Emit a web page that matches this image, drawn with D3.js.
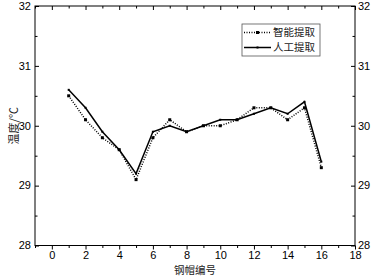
<!DOCTYPE html>
<html><head><meta charset="utf-8">
<script src="https://cdn.jsdelivr.net/npm/d3@7"></script>
<style>body{margin:0;background:#fff}svg{display:block}</style>
</head><body>
<script>
const ids = [1,2,3,4,5,6,7,8,9,10,11,12,13,14,15,16];
const smartVals = [30.5,30.1,29.8,29.6,29.1,29.8,30.1,29.9,30.0,30.0,30.1,30.3,30.3,30.1,30.3,29.3];
const manualVals = [30.6,30.3,29.9,29.6,29.2,29.9,30.0,29.9,30.0,30.1,30.1,30.2,30.3,30.2,30.4,29.4];
const seriesNames = ["智能提取","人工提取"];
const xTicks = [0,2,4,6,8,10,12,14,16,18];
const yTicks = [28,29,30,31,32];
const xLabel = "钢帽编号";
const yLabel = "温度/℃";

const W=373,H=278;
const svg=d3.select("body").append("svg").attr("width",W).attr("height",H);
const L=35,R=355,T=6,B=245.5;
const x=d3.scaleLinear().domain([-1,18]).range([L,R]);
const y=d3.scaleLinear().domain([28,32]).range([B,T]);
const tickFont="Liberation Sans, Arial, sans-serif";

function styleAxis(g){g.select(".domain").remove();g.selectAll("line").attr("stroke","#000").attr("stroke-width",1);
 g.selectAll("text").attr("font-family",tickFont).attr("font-size",11).attr("fill","#000");}
const xMinor=d3.range(-1,18.01,1).filter(v=>v%2!==0);
const yMinor=d3.range(28.5,32,1);

// bottom
svg.append("g").attr("transform",`translate(0,${B})`).call(d3.axisBottom(x).tickValues(xTicks).tickSize(4).tickPadding(2).tickFormat(d3.format("d"))).call(styleAxis);
svg.append("g").attr("transform",`translate(0,${B})`).call(d3.axisBottom(x).tickValues(xMinor).tickSize(2.5).tickFormat("")).call(styleAxis);
// top
svg.append("g").attr("transform",`translate(0,${T})`).call(d3.axisBottom(x).tickValues(xTicks).tickSize(4).tickFormat("")).call(styleAxis);
svg.append("g").attr("transform",`translate(0,${T})`).call(d3.axisBottom(x).tickValues(xMinor).tickSize(2.5).tickFormat("")).call(styleAxis);
// left
svg.append("g").attr("transform",`translate(${L},0)`).call(d3.axisRight(y).tickValues(yTicks).tickSize(4).tickFormat("")).call(styleAxis);
svg.append("g").attr("transform",`translate(${L},0)`).call(d3.axisRight(y).tickValues(yMinor).tickSize(2.5).tickFormat("")).call(styleAxis);
svg.append("g").selectAll("text").data(yTicks).join("text").attr("x",L-4).attr("y",d=>y(d)).attr("dy","0.35em")
 .attr("text-anchor","end").attr("font-family",tickFont).attr("font-size",11).text(d=>d);
// right
svg.append("g").attr("transform",`translate(${R},0)`).call(d3.axisLeft(y).tickValues(yTicks).tickSize(4).tickFormat("")).call(styleAxis);
svg.append("g").attr("transform",`translate(${R},0)`).call(d3.axisLeft(y).tickValues(yMinor).tickSize(2.5).tickFormat("")).call(styleAxis);
svg.append("g").selectAll("text").data(yTicks).join("text").attr("x",R+3).attr("y",d=>y(d)).attr("dy","0.35em")
 .attr("text-anchor","start").attr("font-family",tickFont).attr("font-size",11).text(d=>d);
// frame
svg.append("rect").attr("x",L).attr("y",T).attr("width",R-L).attr("height",B-T).attr("fill","none").attr("stroke","#000").attr("stroke-width",1);

const line=d3.line().x((d,i)=>x(ids[i])).y(d=>y(d));
svg.append("path").datum(smartVals).attr("d",line).attr("fill","none").attr("stroke","#000").attr("stroke-width",1.5).attr("stroke-dasharray","1,1.5");
svg.append("path").datum(manualVals).attr("d",line).attr("fill","none").attr("stroke","#000").attr("stroke-width",1.5);
svg.append("g").selectAll("rect").data(smartVals).join("rect").attr("x",(d,i)=>x(ids[i])-1.5).attr("y",d=>y(d)-1.5).attr("width",3).attr("height",3).attr("fill","#000");
svg.append("g").selectAll("rect").data(manualVals).join("rect").attr("x",(d,i)=>x(ids[i])-1).attr("y",d=>y(d)-1).attr("width",2).attr("height",2).attr("fill","#000");

// legend
const lg=svg.append("g");
lg.append("rect").attr("x",242).attr("y",24).attr("width",78).attr("height",32).attr("fill","#fff").attr("stroke","#555").attr("stroke-width",0.8);
const rows=[{n:seriesNames[0],dash:"1,1.5",s:3},{n:seriesNames[1],dash:null,s:2}];
rows.forEach((r,i)=>{const yy=32.5+i*15;
 lg.append("line").attr("x1",244).attr("x2",271).attr("y1",yy).attr("y2",yy).attr("stroke","#000").attr("stroke-width",1.5).attr("stroke-dasharray",r.dash);
 lg.append("rect").attr("x",257.5-r.s/2).attr("y",yy-r.s/2).attr("width",r.s).attr("height",r.s).attr("fill","#000");
 lg.append("text").attr("x",273).attr("y",yy).attr("dy","0.35em").attr("font-family","Noto Sans CJK SC").attr("font-size",10.5).attr("fill","#222").text(r.n);
});

svg.append("text").attr("x",(L+R)/2).attr("y",270).attr("text-anchor","middle").attr("dy","0.35em").attr("font-family","Noto Sans CJK SC").attr("font-size",10.5).attr("fill","#222").text(xLabel);
svg.append("text").attr("transform",`translate(14,${(T+B)/2}) rotate(-90)`).attr("text-anchor","middle").attr("dy","0.35em").attr("font-family","Noto Sans CJK SC").attr("font-size",11).attr("fill","#222").text(yLabel);
</script>
</body></html>
